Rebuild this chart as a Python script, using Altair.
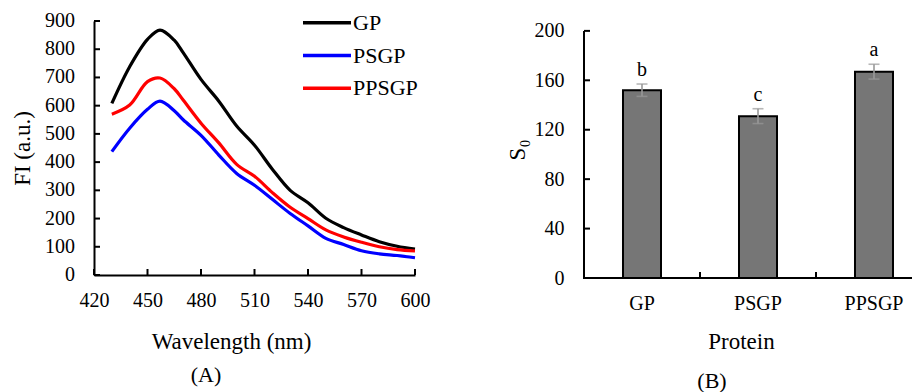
import altair as alt
import pandas as pd

# ---------------- data ----------------
wavelength = [430, 440, 450, 457, 465, 470, 480, 490, 500, 510, 520, 530, 540, 550, 560, 570, 580, 590, 600]
fi_gp = [608, 738, 835, 868, 832, 788, 693, 616, 528, 460, 375, 300, 256, 201, 168, 142, 118, 102, 92]
fi_psgp = [437, 520, 587, 616, 582, 550, 495, 425, 360, 318, 268, 218, 174, 130, 108, 86, 75, 69, 61]
fi_ppsgp = [570, 602, 685, 698, 660, 620, 538, 468, 392, 350, 292, 240, 200, 160, 135, 116, 100, 90, 85]
series_names = ["GP", "PSGP", "PPSGP"]
series_colors = ["#000000", "#0000ff", "#ff0000"]
x_ticks = [420, 450, 480, 510, 540, 570, 600]
y_ticks = [0, 100, 200, 300, 400, 500, 600, 700, 800, 900]

proteins = ["GP", "PSGP", "PPSGP"]
s0_values = [152, 131, 167]
s0_errors = [5, 6, 6]
sig_letters = ["b", "c", "a"]
s0_ticks = [0, 40, 80, 120, 160, 200]

FONT = "Liberation Serif"

# ---------------- tables ----------------
rows = []
for name, vals in zip(series_names, [fi_gp, fi_psgp, fi_ppsgp]):
    for w, v in zip(wavelength, vals):
        rows.append({"wl": w, "fi": v, "series": name})
df_lines = pd.DataFrame(rows)
df_xt = pd.DataFrame({"wl": x_ticks})
df_yt = pd.DataFrame({"fi": y_ticks})
df_leg = pd.DataFrame({"series": series_names})

df_bar = pd.DataFrame({
    "protein": proteins,
    "s0": s0_values,
    "lo": [v - e for v, e in zip(s0_values, s0_errors)],
    "hi": [v + e for v, e in zip(s0_values, s0_errors)],
    "letter": sig_letters,
})
df_s0t = pd.DataFrame({"s0": s0_ticks})
df_s0dom = pd.DataFrame({"s0": [min(s0_ticks)], "s0_top": [max(s0_ticks)]})

AX = dict(labelFont=FONT, titleFont=FONT, labelFontSize=20, titleFontSize=23,
          labelColor="black", titleColor="black", titleFontWeight="normal",
          domainColor="black", domainWidth=2, grid=False,
          labelOverlap=False, labelFlush=False)

color_scale = alt.Scale(domain=series_names, range=series_colors)

# ---------------- panel A ----------------
W1, H1 = 321, 254
xA = alt.X("wl:Q", scale=alt.Scale(domain=[420, 600], nice=False, zero=False),
           axis=alt.Axis(values=x_ticks, title="Wavelength (nm)", ticks=False,
                         labelPadding=15, titlePadding=20, titleX=137, format="d", **AX))
yA = alt.Y("fi:Q", scale=alt.Scale(domain=[0, 900], nice=False),
           axis=alt.Axis(title="FI (a.u.)", ticks=False, labels=False,
                         titlePadding=60, **AX))

lines = alt.Chart(df_lines).mark_line(strokeWidth=3.2, interpolate="catmull-rom").encode(
    x=xA, y=yA,
    color=alt.Color("series:N", scale=color_scale, legend=None),
)
xticksA = alt.Chart(df_xt).mark_rule(color="black", strokeWidth=2).encode(
    x="wl:Q", y=alt.value(H1), y2=alt.value(H1 - 6))
yticksA = alt.Chart(df_yt).mark_rule(color="black", strokeWidth=2).encode(
    y="fi:Q", x=alt.value(0), x2=alt.value(6))
ylabA = alt.Chart(df_yt).mark_text(font=FONT, fontSize=20, color="black",
                                   align="right", baseline="middle").encode(
    y="fi:Q", x=alt.value(-19), text=alt.Text("fi:Q", format="d"))
capA = alt.Chart(pd.DataFrame({"t": ["(A)"]})).mark_text(
    font=FONT, fontSize=22, color="black", baseline="middle").encode(
    text="t:N", x=alt.value(112), y=alt.value(354))

leg_y = alt.Y("series:N", scale=alt.Scale(type="point", domain=series_names,
                                          range=[1.7, 67.3], padding=0), axis=None)
leg_lines = alt.Chart(df_leg).mark_rule(strokeWidth=3.5).encode(
    y=leg_y, x=alt.value(209), x2=alt.value(257),
    color=alt.Color("series:N", scale=color_scale, legend=None))
leg_text = alt.Chart(df_leg).mark_text(font=FONT, fontSize=22, color="black",
                                       align="left", baseline="middle").encode(
    y=leg_y, x=alt.value(259), text="series:N")

panelA = alt.layer(
    alt.layer(lines, xticksA, yticksA, ylabA, capA),
    alt.layer(leg_lines, leg_text),
).resolve_scale(y="independent").properties(width=W1, height=H1)

# ---------------- panel B ----------------
W2, H2 = 328, 257        # visible part of the panel (it is cut at the right edge)
STEP = 116
xB = alt.X("protein:N", sort=proteins,
           scale=alt.Scale(paddingInner=0.6724, paddingOuter=0.25, align=0.6724),
           axis=alt.Axis(title="Protein", labelAngle=0, ticks=False, domain=False,
                         labelPadding=15, titlePadding=17, titleX=157, **AX))
yB = alt.Y("s0:Q", scale=alt.Scale(domain=[0, 208], nice=False),
           axis=alt.Axis(values=s0_ticks, title="S₀", ticks=False, domain=False,
                         labelPadding=20, titlePadding=5, **AX))

bars = alt.Chart(df_bar).mark_bar(fill="#767676", stroke="black", strokeWidth=2).encode(x=xB, y=yB)
err = alt.Chart(df_bar).mark_rule(color="#999999", strokeWidth=1.6).encode(
    x=alt.X("protein:N", sort=proteins), y="lo:Q", y2="hi:Q")
cap_hi = alt.Chart(df_bar).mark_tick(color="#999999", size=11, thickness=1.6).encode(
    x=alt.X("protein:N", sort=proteins), y="hi:Q")
cap_lo = alt.Chart(df_bar).mark_tick(color="#999999", size=11, thickness=1.6).encode(
    x=alt.X("protein:N", sort=proteins), y="lo:Q")
letters = alt.Chart(df_bar).mark_text(font=FONT, fontSize=20, color="black",
                                      baseline="middle", dy=-14).encode(
    x=alt.X("protein:N", sort=proteins), y="hi:Q", text="letter:N")
ydomB = alt.Chart(df_s0dom).mark_rule(color="black", strokeWidth=2).encode(
    y="s0:Q", y2="s0_top:Q", x=alt.value(0))
xdomB = alt.Chart(df_s0dom).mark_rule(color="black", strokeWidth=2).encode(
    y="s0:Q", x=alt.value(-1), x2=alt.value(W2))
yticksB = alt.Chart(df_s0t).mark_rule(color="black", strokeWidth=2).encode(
    y="s0:Q", x=alt.value(0), x2=alt.value(6))
xticksB = alt.Chart(df_bar).transform_filter(
    alt.datum.protein != proteins[-1]
).mark_rule(color="black", strokeWidth=2, xOffset=STEP / 2).encode(
    x=alt.X("protein:N", sort=proteins), y=alt.value(H2), y2=alt.value(H2 - 6))
capB = alt.Chart(pd.DataFrame({"t": ["(B)"]})).mark_text(
    font=FONT, fontSize=22, color="black", baseline="middle").encode(
    text="t:N", x=alt.value(128), y=alt.value(360))

panelB = alt.layer(bars, err, cap_hi, cap_lo, letters, ydomB, xdomB, yticksB, xticksB, capB).properties(
    width=W2, height=H2)

chart = alt.hconcat(panelA, panelB, spacing=76).properties(
    padding={"left": 3, "top": 3, "right": 0, "bottom": 0}
).configure_view(stroke=None)

chart.save("out.html", embed_options={"renderer": "svg", "actions": False})
